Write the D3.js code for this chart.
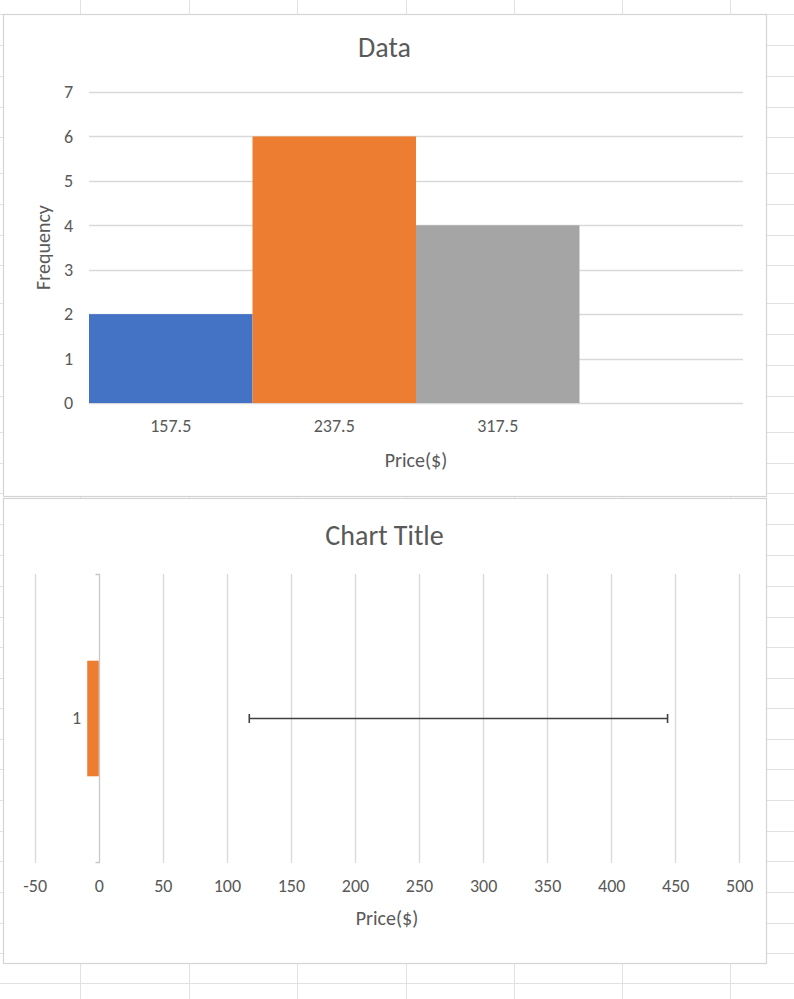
<!DOCTYPE html>
<html>
<head>
<meta charset="utf-8">
<script src="https://cdn.jsdelivr.net/npm/d3@7"></script>
<style>
  html, body { margin: 0; padding: 0; background: #fff; }
  svg { display: block; }
  text { font-family: Carlito, Calibri, Lato, "Noto Sans", sans-serif; fill: #595959; }
</style>
</head>
<body>
<svg id="chart" width="794" height="999"></svg>
<script>
// ---- Data: histogram (chart 1) ----
const binLabels = ["157.5", "237.5", "317.5", ""];
const frequencies = [2, 6, 4, 0];
const binColors = ["#4472C4", "#ED7D31", "#A5A5A5", "#FFC000"];
const freqTicks = [0, 1, 2, 3, 4, 5, 6, 7];

// ---- Data: chart 2 (bar with error bar) ----
const rangeCategories = ["1"];
const rangeBarValues = [-9];
const errorLow = [117.5];
const errorHigh = [444];
const priceTicks = [-50, 0, 50, 100, 150, 200, 250, 300, 350, 400, 450, 500];

// ---- Spreadsheet background grid (decoration) ----
const sheetCols = [80, 189, 297, 406, 514, 622, 730];
const sheetRows = [14, 45, 76, 107, 137, 173, 204, 235, 265, 303, 334, 365, 396, 432, 463, 493,
                   524, 555, 586, 617, 647, 678, 708, 739, 769, 800, 831, 861, 892, 923, 953, 983];

const svg = d3.select("#chart");
const W = 794, H = 999;
const gridColor = "#D9D9D9";
const plainNum = d => String(d); // hyphen-minus like Excel

// background sheet grid
const bg = svg.append("g");
bg.selectAll("line.c").data(sheetCols).join("line")
  .attr("x1", d => d + 0.5).attr("x2", d => d + 0.5).attr("y1", 0).attr("y2", H)
  .attr("stroke", "#E1E1E1").attr("stroke-width", 1);
bg.selectAll("line.r").data(sheetRows).join("line")
  .attr("x1", 0).attr("x2", W).attr("y1", d => d + 0.5).attr("y2", d => d + 0.5)
  .attr("stroke", "#E1E1E1").attr("stroke-width", 1);

// chart boxes
function box(y0, y1) {
  svg.append("rect").attr("x", 3.5).attr("y", y0 + 0.5).attr("width", 763).attr("height", y1 - y0)
    .attr("fill", "#fff").attr("stroke", "#D4D4D4").attr("stroke-width", 1.2);
}
box(14, 496);
box(498, 963);

// ================= Chart 1 =================
const g1 = svg.append("g");
const x1 = d3.scaleBand().domain(binLabels.map((d, i) => i)).range([89, 743]).padding(0);
const y1 = d3.scaleLinear().domain([0, 7]).range([403, 92]);

g1.append("text").attr("x", 384.5).attr("y", 57).attr("text-anchor", "middle")
  .style("font-size", "28px").text("Data");

// gridlines
g1.selectAll("line.g").data(freqTicks).join("line")
  .attr("x1", 89).attr("x2", 743)
  .attr("y1", d => Math.round(y1(d)) + 0.5).attr("y2", d => Math.round(y1(d)) + 0.5)
  .attr("stroke", gridColor).attr("stroke-width", 1.3);

// bars
g1.selectAll("rect.bar").data(frequencies).join("rect")
  .attr("x", (d, i) => x1(i)).attr("width", x1.bandwidth())
  .attr("y", d => y1(d)).attr("height", d => y1(0) - y1(d))
  .attr("fill", (d, i) => binColors[i]);

// y axis labels
const yAxis1 = d3.axisLeft(y1).tickValues(freqTicks).tickFormat(plainNum).tickSize(0).tickPadding(0);
const ya = g1.append("g").attr("transform", "translate(73,0)").call(yAxis1);
ya.select(".domain").remove();
ya.selectAll("text").style("font-size", "18px").style("font-family", null).attr("fill", "#595959");

// x axis labels
const xAxis1 = d3.axisBottom(x1).tickFormat(i => binLabels[i]).tickSize(0).tickPadding(0);
const xa = g1.append("g").attr("transform", "translate(0,419)").call(xAxis1);
xa.select(".domain").remove();
xa.selectAll("text").style("font-size", "18px").style("font-family", null).attr("fill", "#595959");

g1.append("text").attr("x", 416).attr("y", 467).attr("text-anchor", "middle")
  .style("font-size", "20px").text("Price($)");
g1.append("text").attr("transform", "translate(50,247.5) rotate(-90)").attr("text-anchor", "middle")
  .style("font-size", "20px").text("Frequency");

// ================= Chart 2 =================
const g2 = svg.append("g");
const x2 = d3.scaleLinear().domain([-50, 500]).range([34.7, 739.3]);
const yb = d3.scaleBand().domain(rangeCategories).range([574, 863]).paddingInner(0).paddingOuter(0);

g2.append("text").attr("x", 384.5).attr("y", 545).attr("text-anchor", "middle")
  .style("font-size", "28px").text("Chart Title");

// vertical gridlines
g2.selectAll("line.g").data(priceTicks.filter(d => d !== 0)).join("line")
  .attr("x1", d => Math.round(x2(d)) + 0.5).attr("x2", d => Math.round(x2(d)) + 0.5)
  .attr("y1", 574).attr("y2", 863)
  .attr("stroke", gridColor).attr("stroke-width", 1.3);

// category axis at 0 with boundary ticks
const x0 = Math.round(x2(0)) + 0.5;
g2.append("path")
  .attr("d", `M${x0 - 4},574.5 H${x0} V862.5 H${x0 - 4}`)
  .attr("fill", "none").attr("stroke", "#C8C8C8").attr("stroke-width", 1.3);

// bar (gap width 150%)
const barH = yb.bandwidth() / 2.5;
g2.selectAll("rect.bar").data(rangeBarValues).join("rect")
  .attr("x", d => x2(Math.min(0, d))).attr("width", d => Math.abs(x2(d) - x2(0)))
  .attr("y", (d, i) => yb(rangeCategories[i]) + yb.bandwidth() / 2 - barH / 2)
  .attr("height", barH)
  .attr("fill", "#ED7D31");

// error bar
const eb = g2.selectAll("g.eb").data(errorLow).join("g");
eb.each(function(lo, i) {
  const cy = yb(rangeCategories[i]) + yb.bandwidth() / 2;
  const gg = d3.select(this);
  const hi = errorHigh[i];
  gg.append("line").attr("x1", x2(lo)).attr("x2", x2(hi)).attr("y1", cy).attr("y2", cy)
    .attr("stroke", "#404040").attr("stroke-width", 1.6);
  [lo, hi].forEach(v => {
    gg.append("line").attr("x1", x2(v)).attr("x2", x2(v)).attr("y1", cy - 4.5).attr("y2", cy + 4.5)
      .attr("stroke", "#404040").attr("stroke-width", 1.6);
  });
});

// category label
const yAxis2 = d3.axisLeft(yb).tickSize(0).tickPadding(0);
const ya2 = g2.append("g").attr("transform", "translate(81,0)").call(yAxis2);
ya2.select(".domain").remove();
ya2.selectAll("text").style("font-size", "18px").style("font-family", null).attr("fill", "#595959");

// x axis labels
const xAxis2 = d3.axisBottom(x2).tickValues(priceTicks).tickSize(0).tickPadding(0).tickFormat(plainNum);
const xa2 = g2.append("g").attr("transform", "translate(0,879)").call(xAxis2);
xa2.select(".domain").remove();
xa2.selectAll("text").style("font-size", "18px").style("font-family", null).attr("fill", "#595959");

g2.append("text").attr("x", 387).attr("y", 925).attr("text-anchor", "middle")
  .style("font-size", "20px").text("Price($)");
</script>
</body>
</html>
